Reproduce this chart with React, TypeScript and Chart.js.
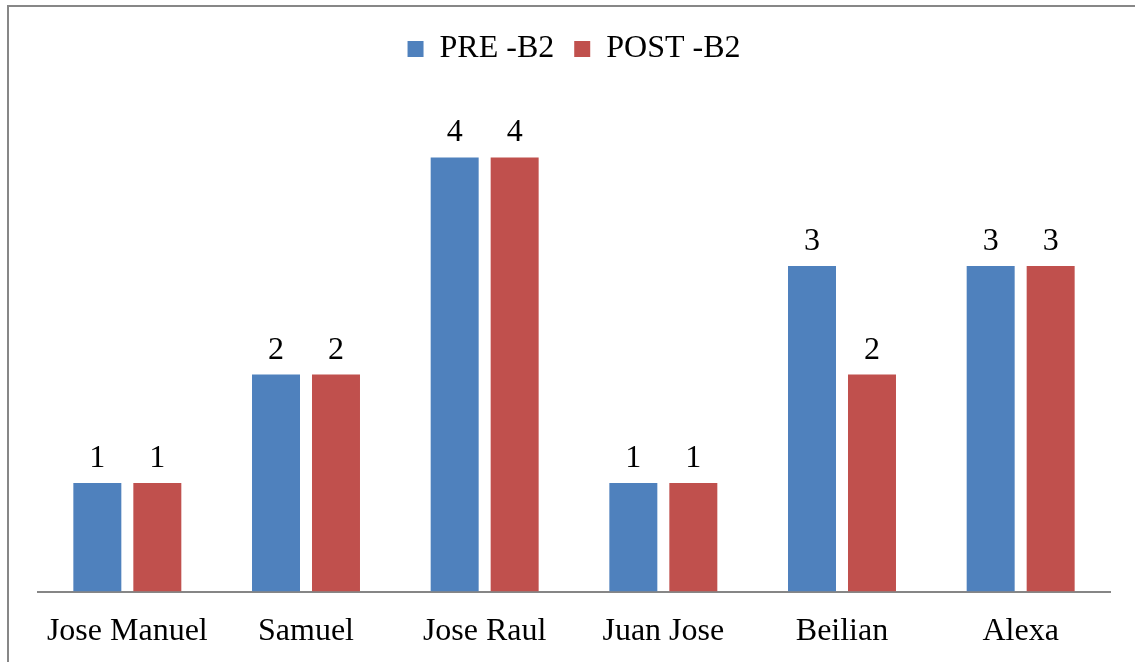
import React, { useEffect, useRef } from 'react';
import { Chart, registerables } from 'chart.js';

Chart.register(...registerables);

const categories = ['Jose Manuel', 'Samuel', 'Jose Raul', 'Juan Jose', 'Beilian', 'Alexa'];
const preB2 = [1, 2, 4, 1, 3, 3];
const postB2 = [1, 2, 4, 1, 2, 3];
const seriesNames = ['PRE -B2', 'POST -B2'];
const seriesColors = ['#4F81BD', '#C0504D'];
const yMin = 0;
const yMax = 4.76;

const FONT = '"Liberation Serif", "Times New Roman", serif';

const framePlugin = {
  id: 'frame',
  beforeDraw(chart: any) {
    const ctx = chart.ctx;
    ctx.save();
    ctx.fillStyle = '#ffffff';
    ctx.fillRect(0, 0, chart.width, chart.height);
    ctx.strokeStyle = '#878787';
    ctx.lineWidth = 2;
    ctx.beginPath();
    ctx.moveTo(8, chart.height);
    ctx.lineTo(8, 6);
    ctx.lineTo(chart.width, 6);
    ctx.stroke();
    ctx.restore();
  },
};

const valueLabelPlugin = {
  id: 'valueLabels',
  afterDatasetsDraw(chart: any) {
    const ctx = chart.ctx;
    ctx.save();
    ctx.font = `32px ${FONT}`;
    ctx.fillStyle = '#000000';
    ctx.textAlign = 'center';
    ctx.textBaseline = 'alphabetic';
    chart.data.datasets.forEach((ds: any, i: number) => {
      const meta = chart.getDatasetMeta(i);
      meta.data.forEach((bar: any, j: number) => {
        ctx.fillText(String(ds.data[j]), bar.x, bar.y - 16);
      });
    });
    ctx.restore();
  },
};

export default function App() {
  const ref = useRef<HTMLCanvasElement>(null);

  useEffect(() => {
    if (!ref.current) return;
    const chart = new Chart(ref.current, {
      type: 'bar',
      data: {
        labels: categories,
        datasets: [
          {
            label: seriesNames[0],
            data: preB2,
            backgroundColor: seriesColors[0],
            categoryPercentage: 0.6715,
            barPercentage: 0.8,
          },
          {
            label: seriesNames[1],
            data: postB2,
            backgroundColor: seriesColors[1],
            categoryPercentage: 0.6715,
            barPercentage: 0.8,
          },
        ],
      },
      options: {
        responsive: false,
        animation: false,
        layout: { padding: { left: 38, right: 25, top: 13, bottom: -10 } },
        plugins: {
          legend: {
            display: true,
            position: 'top',
            labels: {
              boxWidth: 16,
              boxHeight: 16,
              padding: 20,
              color: '#000000',
              font: { family: FONT, size: 32 },
            },
          },
          tooltip: { enabled: false },
        },
        scales: {
          x: {
            grid: { display: false, drawTicks: false },
            border: { display: true, color: '#868686', width: 2 },
            ticks: {
              color: '#000000',
              padding: 21,
              font: { family: FONT, size: 32 },
              maxRotation: 0,
              autoSkip: false,
            },
          },
          y: {
            display: false,
            min: yMin,
            max: yMax,
          },
        },
      },
      plugins: [framePlugin, valueLabelPlugin],
    });
    return () => chart.destroy();
  }, []);

  return (
    <div style={{ position: 'absolute', left: 0, top: 0, width: 1135, height: 662 }}>
      <canvas ref={ref} width={1135} height={662} style={{ display: 'block' }} />
    </div>
  );
}
